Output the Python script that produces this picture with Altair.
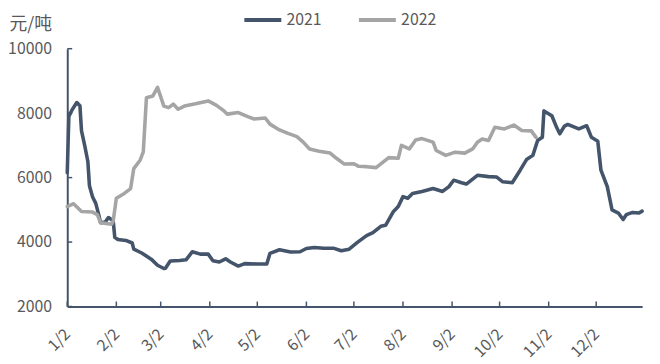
import altair as alt
import pandas as pd

# ---------------- data ----------------
series_names = ["2021", "2022"]
series_colors = ["#44546A", "#A5A5A5"]

dates_2021 = ["01-02", "01-03", "01-05", "01-08", "01-10", "01-11", "01-13", "01-15", "01-16", "01-18",
              "01-20", "01-22", "01-23", "01-26", "01-28", "01-31", "02-01", "02-03", "02-08", "02-12",
              "02-13", "02-18", "02-24", "02-28", "03-04", "03-05", "03-08", "03-14", "03-18", "03-22",
              "03-27", "04-01", "04-04", "04-08", "04-12", "04-15", "04-20", "04-24", "05-02", "05-08",
              "05-10", "05-16", "05-23", "05-29", "06-02", "06-07", "06-13", "06-19", "06-24", "06-29",
              "07-04", "07-10", "07-14", "07-19", "07-22", "07-27", "07-30", "08-02", "08-05", "08-08",
              "08-14", "08-21", "08-27", "08-31", "09-03", "09-08", "09-11", "09-18", "09-25", "09-30",
              "10-04", "10-10", "10-15", "10-19", "10-23", "10-26", "10-29", "10-30", "11-04", "11-07",
              "11-09", "11-12", "11-14", "11-21", "11-26", "11-29", "12-03", "12-05", "12-09", "12-12",
              "12-16", "12-19", "12-21", "12-25", "12-29", "12-31"]
values_2021 = [6150, 7900, 8100, 8330, 8230, 7450, 7000, 6500, 5750, 5400,
               5200, 4820, 4600, 4620, 4760, 4660, 4150, 4080, 4050, 3970,
               3780, 3660, 3470, 3280, 3180, 3190, 3410, 3430, 3450, 3700,
               3625, 3625, 3420, 3380, 3480, 3380, 3255, 3330, 3320, 3320,
               3650, 3760, 3690, 3700, 3800, 3830, 3810, 3810, 3730, 3780,
               3980, 4200, 4290, 4490, 4520, 4950, 5100, 5410, 5360, 5510,
               5570, 5660, 5570, 5720, 5920, 5840, 5800, 6070, 6030, 6020,
               5870, 5840, 6230, 6560, 6690, 7150, 7250, 8070, 7920, 7560,
               7360, 7600, 7650, 7510, 7610, 7250, 7130, 6230, 5720, 5000,
               4900, 4700, 4850, 4920, 4900, 4960]

dates_2022 = ["01-02", "01-06", "01-11", "01-18", "01-21", "01-23", "01-30", "01-31", "02-02", "02-07",
              "02-11", "02-13", "02-17", "02-19", "02-21", "02-25", "02-28", "03-04", "03-07", "03-10",
              "03-13", "03-17", "03-24", "04-01", "04-06", "04-11", "04-13", "04-20", "04-26", "04-30",
              "05-07", "05-10", "05-16", "05-21", "05-27", "05-31", "06-04", "06-10", "06-17", "06-21",
              "06-26", "07-02", "07-05", "07-10", "07-16", "07-24", "07-30", "08-01", "08-06", "08-10",
              "08-14", "08-21", "08-23", "08-29", "09-04", "09-10", "09-15", "09-18", "09-21", "09-25",
              "09-29", "10-05", "10-11", "10-16", "10-22", "10-25"]
values_2022 = [5100, 5190, 4950, 4930, 4850, 4600, 4550, 4650, 5360, 5510,
               5660, 6280, 6540, 6800, 8480, 8530, 8800, 8220, 8170, 8280,
               8120, 8220, 8290, 8380, 8250, 8070, 7970, 8020, 7890, 7820,
               7850, 7660, 7480, 7380, 7270, 7100, 6890, 6820, 6760, 6600,
               6420, 6430, 6350, 6340, 6310, 6620, 6600, 7000, 6890, 7170,
               7210, 7100, 6840, 6690, 6790, 6760, 6890, 7100, 7200, 7150,
               7560, 7510, 7630, 7460, 7450, 7250]

x_tick_dates = ["01-02", "02-02", "03-02", "04-02", "05-02", "06-02",
                "07-02", "08-02", "09-02", "10-02", "11-02", "12-02"]
x_domain = ["01-02", "12-31"]
y_ticks = [2000, 4000, 6000, 8000, 10000]
y_title = "元/吨"

# ---------------- build tables ----------------
BASE_YEAR = "2021-"
rows = []
for name, ds, vs in [(series_names[0], dates_2021, values_2021),
                     (series_names[1], dates_2022, values_2022)]:
    for d, v in zip(ds, vs):
        rows.append({"series": name, "date": BASE_YEAR + d, "value": v})
df = pd.DataFrame(rows)

xt_df = pd.DataFrame({"date": [BASE_YEAR + d for d in x_tick_dates]})
yt_df = pd.DataFrame({"value": y_ticks})


def dt(md):
    m, d = md.split("-")
    return alt.DateTime(year=2021, month=int(m), date=int(d), utc=True)


W, H = 582, 261
AXIS_COLOR = "#44546A"
TEXT_COLOR = "#595959"
FONT = "Noto Sans CJK SC"

x_scale = alt.Scale(type="utc", domain=[dt(x_domain[0]), dt(x_domain[1])])
y_scale = alt.Scale(domain=[y_ticks[0], y_ticks[-1]], nice=False, zero=False)

x_axis = alt.Axis(values=[dt(d) for d in x_tick_dates],
                  labelExpr="utcFormat(datum.value, '%-m/%-d')",
                  labelAngle=-45, labelAlign="right", labelBaseline="middle",
                  labelPadding=25, ticks=False, grid=False, title=None,
                  domainColor=AXIS_COLOR, domainWidth=2,
                  labelFontSize=16, labelColor=TEXT_COLOR, labelFont=FONT)
y_axis = alt.Axis(values=y_ticks, format="d", ticks=False, grid=False, labelPadding=16,
                  domainColor=AXIS_COLOR, domainWidth=2,
                  labelFontSize=16, labelColor=TEXT_COLOR, labelFont=FONT,
                  title=y_title, titleAngle=0, titleAlign="left", titleBaseline="middle",
                  titleX=-59, titleY=-24, titleFontSize=18, titleFontWeight="normal",
                  titleColor=TEXT_COLOR, titleFont=FONT)

lines = alt.Chart(df).mark_line(strokeWidth=3.6, strokeJoin="round", strokeCap="round").encode(
    x=alt.X("date:T", scale=x_scale, axis=x_axis),
    y=alt.Y("value:Q", scale=y_scale, axis=y_axis),
    color=alt.Color("series:N",
                    scale=alt.Scale(domain=series_names, range=series_colors),
                    legend=alt.Legend(title=None, orient="none", direction="horizontal",
                                      legendX=177, legendY=-50, padding=0,
                                      symbolType="stroke", symbolSize=1400, symbolStrokeWidth=4,
                                      labelOffset=3, columnPadding=29,
                                      labelFontSize=16, labelColor=TEXT_COLOR, labelFont=FONT)),
)

x_ticks = alt.Chart(xt_df).mark_rule(color=AXIS_COLOR, strokeWidth=1.5).encode(
    x=alt.X("date:T", scale=x_scale, axis=x_axis),
    y=alt.value(H - 5), y2=alt.value(H),
)

y_tick_marks = alt.Chart(yt_df).mark_rule(color=AXIS_COLOR, strokeWidth=1.5).encode(
    y=alt.Y("value:Q", scale=y_scale, axis=y_axis),
    x=alt.value(0), x2=alt.value(5),
)

chart = alt.layer(lines, x_ticks, y_tick_marks).properties(
    width=W, height=H,
    autosize=alt.AutoSizeParams(type="none"),
    padding={"left": 60, "top": 39, "right": 10, "bottom": 56},
    background="white",
).configure_view(stroke=None)

chart.save("out.html", embed_options={"renderer": "svg", "actions": False})
